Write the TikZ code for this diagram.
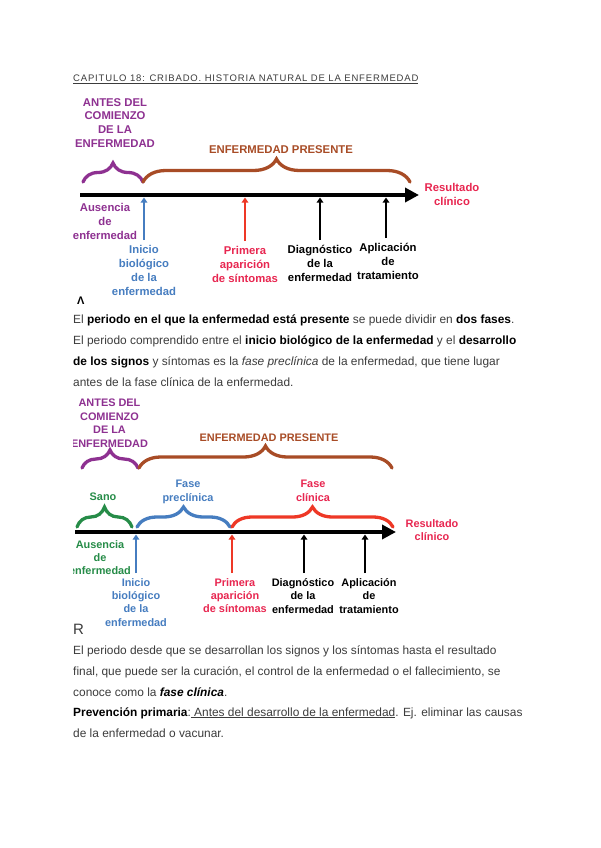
\documentclass[tikz,border=0pt]{standalone}
\usepackage{fontspec}
\setmainfont{Liberation Sans}
\usetikzlibrary{arrows.meta,decorations.pathreplacing}

\definecolor{morado}{RGB}{142,49,145}
\definecolor{marron}{RGB}{168,76,38}
\definecolor{azul}{RGB}{70,125,192}
\definecolor{rojo}{RGB}{238,56,38}
\definecolor{carmin}{RGB}{232,38,80}
\definecolor{verde}{RGB}{38,140,72}
\definecolor{texto}{RGB}{60,60,60}

\newcommand{\negrita}[1]{{\color{black}\bfseries #1}}

\begin{document}
\begin{tikzpicture}[x=1pt,y=-1pt,
		etiq/.style={font=\bfseries\fontsize{11.3}{13.9}\selectfont,align=center,inner sep=0pt,anchor=north},
		etiqb/.style={font=\bfseries\fontsize{10.9}{13.4}\selectfont,align=center,inner sep=0pt,anchor=north},
		llave/.style={decorate,decoration={brace,amplitude=#1},line width=3.3pt,line cap=round},
		eje/.style={line width=#1,-{Triangle[length=14pt,width=14pt]}},
		marca/.style={line width=2.4pt,-{Triangle[length=5pt,width=6.5pt]},shorten <=5pt},
		linea/.style={anchor=base west,inner sep=0pt,font=\fontsize{11.9}{14}\selectfont,text=texto}]
	\fill[white] (0,0) rectangle (600,848);

	% titulo
	\node[anchor=base west,inner sep=0pt,text=texto,
		font=\fontsize{9.5}{11}\selectfont\addfontfeature{LetterSpace=8.8}] (titulo) at (73,82)
		{\underline{CAPITULO 18: CRIBADO. HISTORIA NATURAL DE LA ENFERMEDAD}};

	% figura A
	\begin{scope}
		\clip (73,88) rectangle (600,303);
		\node[etiq,text=morado] (antesA) at (115,98) {ANTES DEL\\COMIENZO\\DE LA\\ENFERMEDAD};
		\node[etiq,text=marron] (presA) at (281,145) {ENFERMEDAD PRESENTE};
		\draw[llave=19,morado] (83,182) -- (143,182);
		\draw[llave=23,marron] (143,182) -- (410,182);
		\coordinate (ejeA0) at (80,195);
		\coordinate (ejeA1) at (419,195);
		\draw[eje=4pt] (ejeA0) -- (ejeA1);
		\node[etiq,text=carmin] (resA) at (452,183) {Resultado\\clínico};
		\node[etiq,text=morado] (ausA) at (105,203) {Ausencia\\de\\enfermedad};
		\node[etiq,text=azul] (iniA) at (144,245) {Inicio\\biológico\\de la\\enfermedad};
		\node[etiq,text=carmin] (priA) at (245,246) {Primera\\aparición\\de síntomas};
		\node[etiq] (diaA) at (320,245) {Diagnóstico\\de la\\enfermedad};
		\node[etiq] (aplA) at (388,243) {Aplicación\\de\\tratamiento};
		\coordinate (tA1) at (144,197.5);
		\coordinate (tA2) at (245,197.5);
		\coordinate (tA3) at (320,197.5);
		\coordinate (tA4) at (386,197.5);
		\draw[marca,azul] (tA1 |- iniA.north) -- (tA1);
		\draw[marca,rojo] (tA2 |- priA.north) -- (tA2);
		\draw[marca] (tA3 |- diaA.north) -- (tA3);
		\draw[marca] (tA4 |- aplA.north) -- (tA4);
		\node[anchor=north west,inner sep=0pt,font=\bfseries\fontsize{11}{13}\selectfont] (letA) at (77,297) {Λ};
	\end{scope}

	% parrafo 1
	\node[linea] (p1a) at (73,323) {El \negrita{periodo en el que la enfermedad está presente} se puede dividir en \negrita{dos fases}.};
	\node[linea] (p1b) at (73,344) {El periodo comprendido entre el \negrita{inicio biológico de la enfermedad} y el \negrita{desarrollo}};
	\node[linea] (p1c) at (73,365) {\negrita{de los signos} y síntomas es la \textit{fase preclínica} de la enfermedad, que tiene lugar};
	\node[linea] (p1d) at (73,386) {antes de la fase clínica de la enfermedad.};

	% figura B
	\begin{scope}
		\clip (73,392) rectangle (600,636);
		\node[etiqb,text=morado] (antesB) at (109.5,399) {ANTES DEL\\COMIENZO\\DE LA\\ENFERMEDAD};
		\node[etiqb,text=marron] (presB) at (269,434) {ENFERMEDAD PRESENTE};
		\draw[llave=18,morado] (82,468) -- (138,468);
		\draw[llave=22,marron] (139,468) -- (392,468);
		\node[etiqb,text=verde] (sanoB) at (103,493) {Sano};
		\node[etiqb,text=azul] (preB) at (188,480) {Fase\\preclínica};
		\node[etiqb,text=carmin] (cliB) at (313,480) {Fase\\clínica};
		\draw[llave=20,verde] (77,527) -- (132,527);
		\draw[llave=20,azul] (137,527) -- (230,527);
		\draw[llave=20,rojo] (232,527) -- (393,527);
		\coordinate (ejeB0) at (75,532);
		\coordinate (ejeB1) at (396,532);
		\draw[eje=3.7pt] (ejeB0) -- (ejeB1);
		\node[etiqb,text=carmin] (resB) at (432,519) {Resultado\\clínico};
		\node[etiqb,text=verde] (ausB) at (100,540) {Ausencia\\de\\enfermedad};
		\node[etiqb,text=azul] (iniB) at (136,578) {Inicio\\biológico\\de la\\enfermedad};
		\node[etiqb,text=carmin] (priB) at (235,578) {Primera\\aparición\\de síntomas};
		\node[etiqb] (diaB) at (303,578) {Diagnóstico\\de la\\enfermedad};
		\node[etiqb] (aplB) at (369,578) {Aplicación\\de\\tratamiento};
		\coordinate (tB1) at (136,534.5);
		\coordinate (tB2) at (232,534.5);
		\coordinate (tB3) at (304,534.5);
		\coordinate (tB4) at (365,534.5);
		\draw[marca,azul] (tB1 |- iniB.north) -- (tB1);
		\draw[marca,rojo] (tB2 |- priB.north) -- (tB2);
		\draw[marca] (tB3 |- diaB.north) -- (tB3);
		\draw[marca] (tB4 |- aplB.north) -- (tB4);
		\node[anchor=north west,inner sep=0pt,text=texto,font=\fontsize{15}{17}\selectfont] (letB) at (73,623.5) {R};
	\end{scope}

	% parrafo 2
	\node[linea] (p2a) at (73,654) {El periodo desde que se desarrollan los signos y los síntomas hasta el resultado};
	\node[linea] (p2b) at (73,675) {final, que puede ser la curación, el control de la enfermedad o el fallecimiento, se};
	\node[linea] (p2c) at (73,696) {conoce como la \negrita{\itshape fase clínica}.};
	\node[linea] (p2d) at (73,716) {\negrita{Prevención primaria}:\underline{ Antes del desarrollo de la enfermedad}. Ej. eliminar las causas};
	\node[linea] (p2e) at (73,737) {de la enfermedad o vacunar.};
\end{tikzpicture}
\end{document}
